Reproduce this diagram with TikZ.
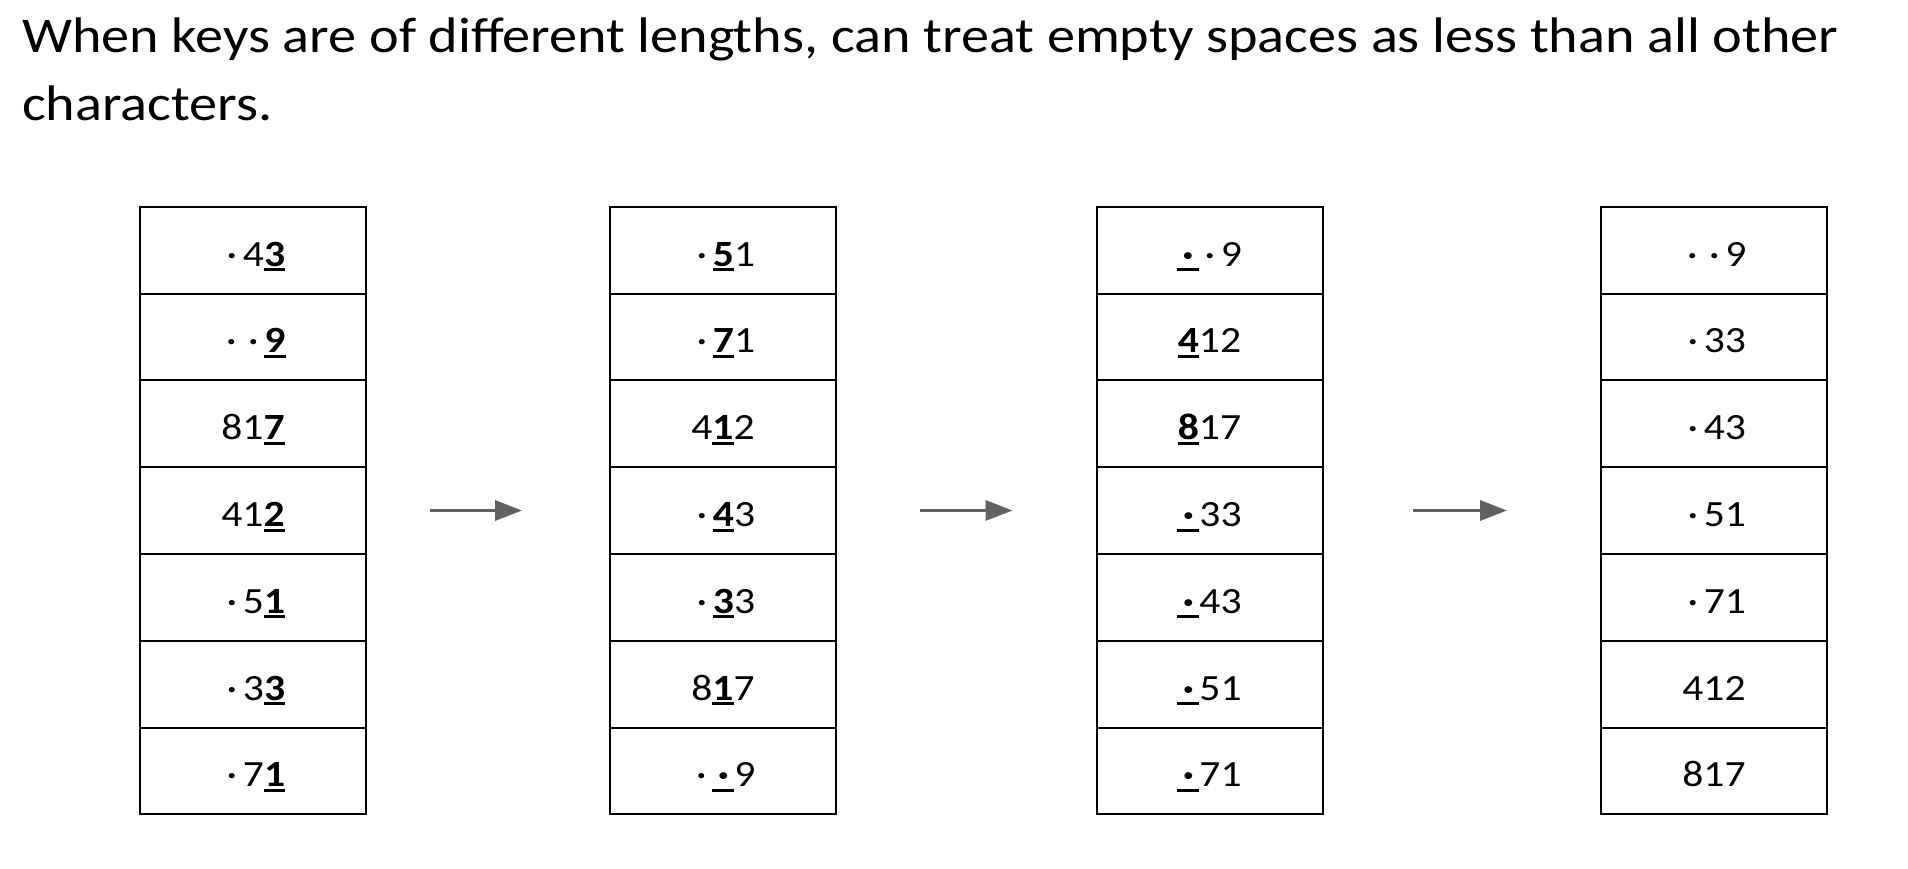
\documentclass[tikz,border=0pt]{standalone}
\usepackage{fontspec}
\setmainfont[FakeStretch=1.124]{Carlito}
\usetikzlibrary{matrix,positioning,arrows.meta}

\definecolor{arrowgray}{HTML}{626262}

% the digit the pass sorts on: bold and underlined
\newcommand{\keych}[1]{\setbox0=\hbox{\bfseries #1}\rlap{\rule[-5pt]{\wd0}{3pt}}\box0\relax}
% an empty position, shown as a dot
\newcommand{\blank}{\makebox[22pt]{·}}
\newcommand{\blankkey}{\keych{\makebox[22pt]{·}}}

\tikzset{
  keycol/.style={matrix of nodes,
                 row sep=-2pt,
                 nodes={draw, line width=2pt, minimum width=226pt, minimum height=86.8pt,
                        inner sep=0pt, anchor=center, text height=32pt, text depth=0pt,
                        font=\fontsize{37}{40}\selectfont}},
  pass/.style={-{Triangle[length=27pt,width=20pt]}, line width=3.5pt, draw=arrowgray}
}

\begin{document}
\begin{tikzpicture}[x=1pt, y=-1pt]
  \useasboundingbox (0,0) rectangle (1908,868);

  %--- Heading
  \node[anchor=north west, inner sep=0pt, align=left, font=\fontsize{50}{67.5}\selectfont]
    (title) at (22,18) {When keys are of different lengths, can treat empty spaces as less than all other\\characters.};

  %--- Original keys
  \matrix[keycol] (A) at (253,510.5) {
    \blank 4\keych{3} \\
    \blank\blank\keych{9} \\
    81\keych{7} \\
    41\keych{2} \\
    \blank 5\keych{1} \\
    \blank 3\keych{3} \\
    \blank 7\keych{1} \\
  };

  %--- Sorted on last digit
  \matrix[keycol] (B) at (723,510.5) {
    \blank\keych{5}1 \\
    \blank\keych{7}1 \\
    4\keych{1}2 \\
    \blank\keych{4}3 \\
    \blank\keych{3}3 \\
    8\keych{1}7 \\
    \blank\blankkey 9 \\
  };

  %--- Sorted on middle digit
  \matrix[keycol] (C) at (1209.5,510.5) {
    \blankkey\blank 9 \\
    \keych{4}12 \\
    \keych{8}17 \\
    \blankkey 33 \\
    \blankkey 43 \\
    \blankkey 51 \\
    \blankkey 71 \\
  };

  %--- Sorted on first digit
  \matrix[keycol] (D) at (1714,510.5) {
    \blank\blank 9 \\
    \blank 33 \\
    \blank 43 \\
    \blank 51 \\
    \blank 71 \\
    412 \\
    817 \\
  };

  %--- Passes
  \draw[pass] ([xshift=63pt]A-4-1.east) -- ([xshift=-87pt]B-4-1.west);
  \draw[pass] ([xshift=83pt]B-4-1.east) -- ([xshift=-83pt]C-4-1.west);
  \draw[pass] ([xshift=89pt]C-4-1.east) -- ([xshift=-93pt]D-4-1.west);
\end{tikzpicture}
\end{document}
